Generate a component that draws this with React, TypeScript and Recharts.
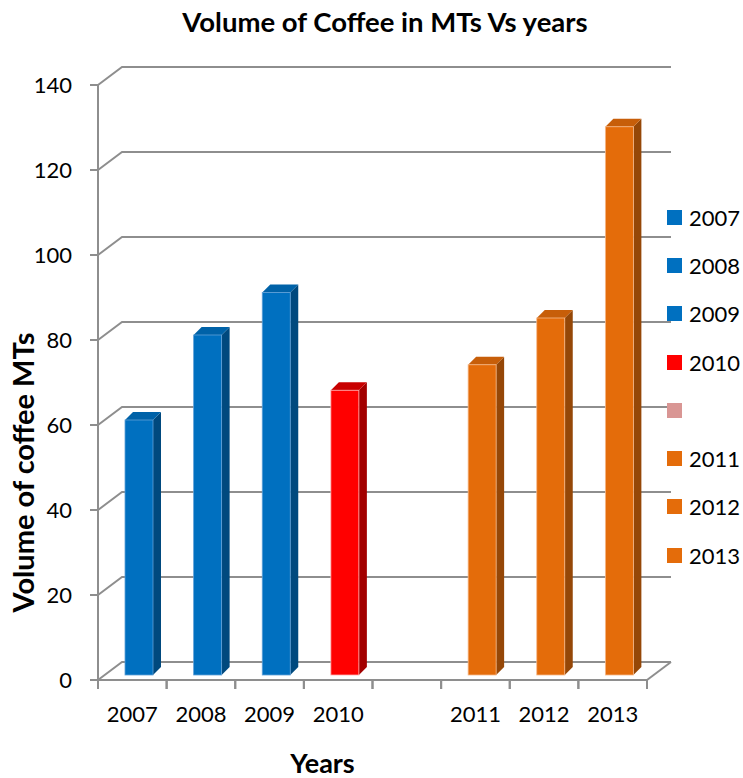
import React from 'react';
import { BarChart, Bar, XAxis, YAxis, CartesianGrid, Cell, Label } from 'recharts';

// ---- data ----
const categories: string[] = ['2007', '2008', '2009', '2010', '', '2011', '2012', '2013'];
const volumes: (number | null)[] = [60, 80, 90, 67, null, 73, 84, 129];
const legendLabels: string[] = ['2007', '2008', '2009', '2010', '', '2011', '2012', '2013'];
const yTicks: number[] = [0, 20, 40, 60, 80, 100, 120, 140];

// ---- styles ----
const FONT = 'Lato, "Liberation Sans", sans-serif';
const GRID = '#8E8E8E';
const frontColors = ['#0070C0', '#0070C0', '#0070C0', '#FF0000', '#D99694', '#E46C0A', '#E46C0A', '#E46C0A'];
const sideColors = ['#00497E', '#00497E', '#00497E', '#A30000', '#9A6A69', '#954707', '#954707', '#954707'];
const topColors = ['#0062A8', '#0062A8', '#0062A8', '#C80000', '#BF8382', '#C75E09', '#C75E09', '#C75E09'];
const edgeColors = ['#5FA0D8', '#5FA0D8', '#5FA0D8', '#FFB0B0', '#EEC8C8', '#F6B98A', '#F6B98A', '#F6B98A'];

const data = categories.map((c, i) => ({ year: c, volume: volumes[i] }));

const WALL_DX = 24;
const WALL_DY = -18;
const BAR_OX = 7;
const BAR_OY = -5;
const DEPTH_X = 8;
const DEPTH_Y = -8;
const CAT_W = 549 / categories.length;

function Bar3D(props: any) {
  const { x, y, width, height, payload } = props;
  if (height == null || !(height > 0)) return null;
  const idx = Math.max(0, categories.indexOf(payload ? payload.year : ''));
  const fx = x + BAR_OX;
  const fy = y + BAR_OY;
  const rx = fx + width;
  const by = fy + height;
  return (
    <g>
      <polygon
        points={`${rx},${fy} ${rx + DEPTH_X},${fy + DEPTH_Y} ${rx + DEPTH_X},${by + DEPTH_Y} ${rx},${by}`}
        fill={sideColors[idx]}
      />
      <polygon
        points={`${fx},${fy} ${fx + DEPTH_X},${fy + DEPTH_Y} ${rx + DEPTH_X},${fy + DEPTH_Y} ${rx},${fy}`}
        fill={topColors[idx]}
      />
      <rect x={fx} y={fy} width={width} height={height} fill={frontColors[idx]} stroke={edgeColors[idx]} strokeWidth={0.8} />
    </g>
  );
}

function GridLine(p: any) {
  const { x1, y1, x2 } = p;
  const isFloor = p.y != null && p.height != null && Math.abs(y1 - (p.y + p.height)) < 0.5;
  return (
    <g>
      <polyline
        points={`${x1},${y1} ${x1 + WALL_DX},${y1 + WALL_DY} ${x2 + WALL_DX},${y1 + WALL_DY}`}
        fill="none"
        stroke={GRID}
        strokeWidth={2}
      />
      {isFloor && (
        <line x1={x2} y1={y1} x2={x2 + WALL_DX} y2={y1 + WALL_DY} stroke={GRID} strokeWidth={2} />
      )}
    </g>
  );
}

function XTick(props: any) {
  const { x, y, payload } = props;
  return (
    <g>
      <line x1={x - CAT_W / 2} y1={y} x2={x - CAT_W / 2} y2={y + 9} stroke={GRID} strokeWidth={2} />
      <line x1={x + CAT_W / 2} y1={y} x2={x + CAT_W / 2} y2={y + 9} stroke={GRID} strokeWidth={2} />
      <text x={x} y={y + 42} textAnchor="middle" fill="#000" fontSize={22} fontFamily={FONT}>
        {payload.value}
      </text>
    </g>
  );
}

function YTitle(props: any) {
  const vb = props.viewBox || { x: 38, y: 85, width: 60, height: 595 };
  const cx = vb.x - 16;
  const cy = vb.y + vb.height / 2 + 90;
  return (
    <text
      x={cx}
      y={cy}
      transform={`rotate(-90 ${cx} ${cy})`}
      textAnchor="middle"
      dominantBaseline="central"
      fontSize={29}
      fontWeight="bold"
      fontFamily={FONT}
      fill="#000"
    >
      Volume of coffee MTs
    </text>
  );
}

function XTitle(props: any) {
  const vb = props.viewBox || { x: 98, y: 680, width: 549, height: 60 };
  const cx = vb.x + vb.width / 2 - 50;
  return (
    <text x={cx} y={773} textAnchor="middle" fontSize={27} fontWeight="bold" fontFamily={FONT} fill="#000">
      Years
    </text>
  );
}

export default function App() {
  return (
    <div style={{ position: 'fixed', left: 0, top: 0, width: 743, height: 778, fontFamily: FONT, background: '#fff' }}>
      <div
        style={{
          position: 'absolute',
          left: 385,
          top: 5,
          transform: 'translateX(-50%)',
          whiteSpace: 'nowrap',
          fontSize: 27.5,
          fontWeight: 'bold',
          color: '#000',
          lineHeight: '34px',
        }}
      >
        Volume of Coffee in MTs Vs years
      </div>
      <BarChart
        width={743}
        height={778}
        data={data}
        margin={{ top: 85, right: 96, bottom: 38, left: 38 }}
        barSize={28}
      >
        <CartesianGrid vertical={false} horizontal={(p: any) => <GridLine {...p} />} />
        <XAxis
          dataKey="year"
          interval={0}
          height={60}
          tickLine={false}
          tickSize={0}
          tickMargin={0}
          axisLine={{ stroke: GRID, strokeWidth: 2 }}
          tick={(p: any) => <XTick {...p} />}
        >
          <Label content={(p: any) => <XTitle {...p} />} />
        </XAxis>
        <YAxis
          width={60}
          domain={[0, 140]}
          ticks={yTicks}
          interval={0}
          tickSize={8}
          tickMargin={18}
          axisLine={{ stroke: GRID, strokeWidth: 2 }}
          tickLine={{ stroke: GRID, strokeWidth: 2 }}
          tick={{ fill: '#000', fontSize: 22, fontFamily: FONT }}
        >
          <Label content={(p: any) => <YTitle {...p} />} />
        </YAxis>
        <Bar dataKey="volume" isAnimationActive={false} shape={(p: any) => <Bar3D {...p} />}>
          {data.map((d, i) => (
            <Cell key={i} fill={frontColors[i]} />
          ))}
        </Bar>
      </BarChart>
      <div style={{ position: 'absolute', left: 667, top: 193 }}>
        {legendLabels.map((lab, i) => (
          <div key={i} style={{ display: 'flex', alignItems: 'center', height: 48.3 }}>
            <div style={{ width: 15, height: 15, background: frontColors[i], marginRight: 7 }} />
            <span style={{ fontSize: 22, color: '#000', whiteSpace: 'nowrap' }}>{lab}</span>
          </div>
        ))}
      </div>
    </div>
  );
}
